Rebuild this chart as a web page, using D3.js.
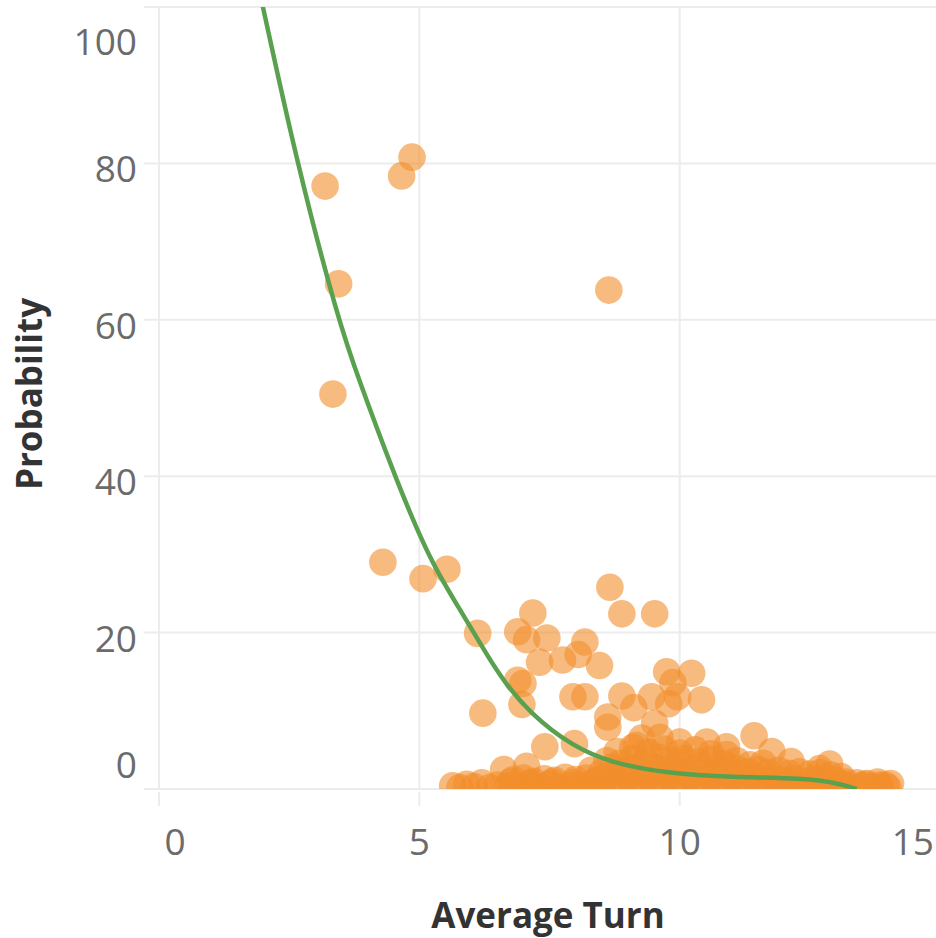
<!DOCTYPE html>
<html>
<head>
<meta charset="utf-8">
<script src="https://cdn.jsdelivr.net/npm/d3@7"></script>
<style>
html,body{margin:0;padding:0;background:#fff;}
svg{display:block;}
</style>
</head>
<body>
<svg id="chart" width="936" height="938"></svg>
<script>
// ---- data ----
const xTicks = [0, 5, 10, 15];
const yTicks = [0, 20, 40, 60, 80, 100];
const xTitle = "Average Turn";
const yTitle = "Probability";

// scattered points [average turn, probability]
const upperPoints = [
  [3.19,77.1],[4.66,78.4],[4.86,80.8],[3.45,64.6],[3.34,50.5],[8.64,63.8],
  [4.30,29.0],[5.07,26.9],[5.53,28.1],
  [8.66,25.8],[8.89,22.4],[9.52,22.4],[7.18,22.5],
  [6.12,19.9],[6.89,20.1],[7.06,19.1],[7.45,19.3],[7.31,16.2],[7.75,16.5],
  [8.05,17.2],[8.18,18.8],[8.46,15.8],
  [6.89,13.9],[6.99,13.5],[6.97,10.8],[7.95,11.8],[8.18,11.8],[8.89,11.9],
  [6.22,9.7],[8.62,9.2],[8.62,7.9],[9.12,10.4],[9.46,11.8],[9.75,15.0],
  [10.23,14.8],[9.87,13.6],[10.42,11.4],[9.79,10.9],[9.96,11.8],[9.52,8.4],
  [7.41,5.4],[7.98,5.8],[11.43,6.8]
];
// points near the bottom (dense band)
const bottomPoints = [
  [5.64,0.4],[5.78,0.2],[5.91,0.6],[6.05,0.3],[6.2,0.8],[6.35,0.2],[6.5,0.5],[6.62,2.5],[7.06,2.9],
  [6.7,0.4],[6.9,0.2],[7.1,0.5],[7.3,0.3],[7.5,0.6],[7.7,0.2],[7.9,0.4],[8.1,0.3],[8.3,0.5],[8.5,0.2],
  [8.7,0.4],[8.9,0.3],[9.1,0.5],[9.3,0.2],[9.5,0.4],[9.7,0.3],[9.9,0.5],[10.1,0.2],[10.3,0.4],[10.5,0.3],
  [10.7,0.5],[10.9,0.2],[11.1,0.4],[11.3,0.3],[11.5,0.5],[11.7,0.2],[11.9,0.4],[12.1,0.3],[12.3,0.5],
  [12.5,0.2],[12.7,0.4],[12.9,0.3],[13.1,0.5],[13.3,0.2],[13.5,0.4],[13.7,0.3],[13.85,0.5],[14.0,0.2],
  [6.8,1.2],[7.0,1.4],[7.2,1.0],[7.4,1.3],[7.6,1.1],[7.8,1.5],[8.0,1.2],[8.2,1.4],[8.4,1.1],[8.6,1.6],
  [8.8,1.3],[9.0,1.5],[9.2,1.2],[9.4,1.6],[9.6,1.3],[9.8,1.5],[10.0,1.2],[10.2,1.6],[10.4,1.3],[10.6,1.5],
  [10.8,1.2],[11.0,1.4],[11.2,1.1],[11.4,1.5],[11.6,1.3],[11.8,1.4],[12.0,1.1],[12.2,1.3],[12.4,1.0],
  [12.6,1.2],[12.8,1.0],[13.0,1.1],[13.2,0.9],[13.4,0.8],[13.6,0.7],[13.8,0.9],[14.05,0.7],
  [6.75,0.9],[7.15,0.8],[7.55,0.9],[7.95,0.8],[8.35,0.9],[12.35,0.8],[12.75,0.7],[13.15,0.6],[13.55,0.6],[13.95,0.5],
  [8.3,2.4],[8.5,2.1],[8.7,2.8],[8.9,2.3],[9.1,2.7],[9.3,2.2],[9.5,2.9],[9.7,2.4],[9.9,2.6],[10.1,2.2],
  [10.3,2.8],[10.5,2.4],[10.7,2.7],[10.9,2.3],[11.1,2.6],[11.3,2.2],[11.5,2.5],[11.7,2.1],[11.9,2.4],
  [12.1,2.0],[12.3,2.2],[12.5,1.9],[12.7,2.1],[12.9,1.8],[13.1,1.6],
  [8.6,3.6],[8.85,3.3],[9.1,3.9],[9.35,3.5],[9.6,4.1],[9.85,3.6],[10.1,3.9],[10.35,3.4],[10.6,3.8],
  [10.85,3.3],[11.1,3.6],[11.35,3.1],[11.6,3.3],
  [8.8,4.8],[9.1,5.3],[9.4,4.7],[9.7,5.1],[10.0,4.6],[10.3,5.0],[10.6,4.5],[10.9,4.4],
  [9.27,6.5],[9.62,6.6],[10.0,6.0],[10.52,6.0],[10.9,5.4],[9.17,5.6],[11.77,4.8],[12.14,3.5],
  [12.88,3.2],[12.69,2.6]
];
// trend line
const trendTurn = [1.93, 2.0, 2.65, 3.44, 3.84, 4.53, 4.96, 5.32, 5.82, 6.32, 6.61, 7.12, 7.95, 8.71, 9.75, 11.0, 12.4, 13.07, 13.4];
const trendProb = [102, 99.9, 80, 60, 52.3, 40, 33.1, 28.0, 22.5, 16.9, 13.9, 9.7, 5.4, 3.3, 2.0, 1.5, 1.4, 0.7, 0];

// ---- layout ----
const svg = d3.select("#chart");
const x = d3.scaleLinear().domain([0, 15]).range([159, 940]);
const y = d3.scaleLinear().domain([0, 100]).range([789, 7]);
const gridColor = "#ececec";
const fontFam = "'Open Sans', 'Noto Sans', sans-serif";

svg.append("defs").append("clipPath").attr("id", "plotclip")
  .append("rect").attr("x", 159).attr("y", 7).attr("width", 936 - 159).attr("height", 789 - 7);

// horizontal gridlines
svg.append("g").selectAll("line").data(yTicks).join("line")
  .attr("x1", 144).attr("x2", 936)
  .attr("y1", d => y(d)).attr("y2", d => y(d))
  .attr("stroke", gridColor).attr("stroke-width", 2);
// vertical gridlines
svg.append("g").selectAll("line").data(xTicks).join("line")
  .attr("x1", d => x(d)).attr("x2", d => x(d))
  .attr("y1", y(100)).attr("y2", y(0))
  .attr("stroke", gridColor).attr("stroke-width", 2);
// x ticks below axis
svg.append("g").selectAll("line").data(xTicks).join("line")
  .attr("x1", d => x(d)).attr("x2", d => x(d))
  .attr("y1", 792).attr("y2", 806)
  .attr("stroke", gridColor).attr("stroke-width", 2);

// y tick labels
svg.append("g").selectAll("text").data(yTicks).join("text")
  .attr("x", 137)
  .attr("y", d => d === 100 ? y(d) + 48 : d === 0 ? y(d) - 11 : y(d) + 19)
  .attr("text-anchor", "end")
  .attr("font-family", fontFam).attr("font-size", 37).attr("fill", "#6b6b6b")
  .text(d => d);

// x tick labels
svg.append("g").selectAll("text").data(xTicks).join("text")
  .attr("x", d => d === 0 ? x(d) + 16 : d === 15 ? 934 : x(d))
  .attr("y", 855)
  .attr("text-anchor", d => d === 15 ? "end" : "middle")
  .attr("font-family", fontFam).attr("font-size", 37).attr("fill", "#6b6b6b")
  .text(d => d);

// axis titles
svg.append("text")
  .attr("x", 548).attr("y", 928)
  .attr("text-anchor", "middle")
  .attr("font-family", fontFam).attr("font-weight", "bold").attr("font-size", 35).attr("fill", "#333")
  .text(xTitle);
svg.append("text")
  .attr("transform", "translate(42,394) rotate(-90)")
  .attr("text-anchor", "middle")
  .attr("font-family", fontFam).attr("font-weight", "bold").attr("font-size", 35).attr("fill", "#333")
  .text(yTitle);

// points
const plot = svg.append("g").attr("clip-path", "url(#plotclip)");
plot.append("g").selectAll("circle").data(bottomPoints.concat(upperPoints)).join("circle")
  .attr("cx", d => x(d[0])).attr("cy", d => y(d[1]))
  .attr("r", 13.8)
  .attr("fill", "#f28e2b").attr("fill-opacity", 0.6);

// trend line
const trend = trendTurn.map((t, i) => [t, trendProb[i]]);
plot.append("path").datum(trend)
  .attr("d", d3.line().x(d => x(d[0])).y(d => y(d[1])).curve(d3.curveBasis))
  .attr("fill", "none").attr("stroke", "#59a14f").attr("stroke-width", 4.5);
</script>
</body>
</html>
